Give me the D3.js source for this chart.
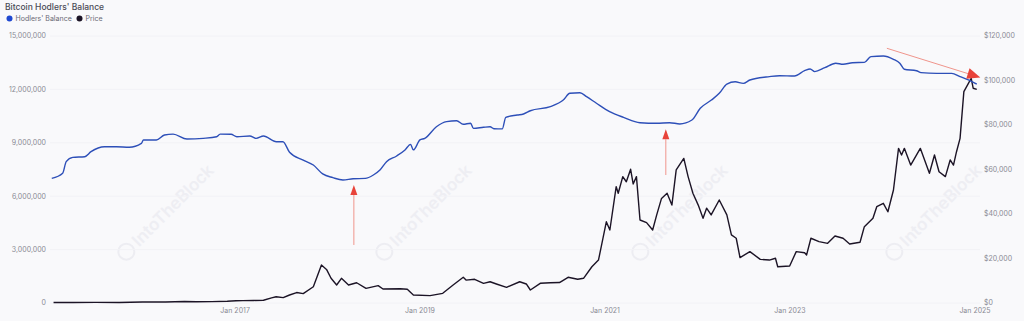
<!DOCTYPE html>
<html>
<head>
<meta charset="utf-8">
<script src="https://cdn.jsdelivr.net/npm/d3@7"></script>
<style>
  html, body { margin: 0; padding: 0; background: #f9f9fb; }
  svg { display: block; font-family: Inter, "Noto Sans", sans-serif; }
</style>
</head>
<body>
<div id="chart"></div>
<script>
// ---- data ----
const balanceDates = ["2015-01-08","2015-02-20","2015-03-06","2015-04-01","2015-05-18","2015-06-12","2015-08-04","2015-09-20","2015-11-10","2015-12-28",
  "2016-01-05","2016-02-25","2016-03-28","2016-05-01","2016-06-25","2016-08-28","2016-10-20","2016-11-03","2016-12-16",
  "2017-01-08","2017-02-28","2017-03-25","2017-04-23","2017-06-13","2017-07-09","2017-08-04","2017-09-27","2017-11-06","2017-12-13",
  "2018-01-22","2018-03-03","2018-04-12","2018-05-30","2018-07-01","2018-07-27","2018-08-22","2018-10-01","2018-11-03","2018-11-25","2018-12-06",
  "2019-01-01","2019-01-20","2019-03-07","2019-04-16","2019-05-26","2019-06-21","2019-07-20","2019-07-31","2019-09-09","2019-10-05","2019-10-20","2019-11-22","2019-12-06",
  "2020-01-20","2020-02-14","2020-03-12","2020-05-30","2020-07-20","2020-08-15","2020-09-24","2020-10-20","2020-11-28",
  "2021-01-19","2021-03-15","2021-05-19","2021-07-24","2021-09-13","2021-10-23","2021-12-10",
  "2022-01-12","2022-02-25","2022-03-28","2022-04-27","2022-05-30","2022-07-01","2022-07-27","2022-10-12","2022-11-21",
  "2023-01-19","2023-02-28","2023-03-22","2023-04-09","2023-05-19","2023-07-01","2023-07-30","2023-09-05","2023-10-22","2023-11-17",
  "2024-01-05","2024-02-14","2024-03-10","2024-03-28","2024-05-15","2024-06-02","2024-08-03","2024-10-01","2024-11-03","2024-12-06","2025-01-08"];
const balanceValues = [7.0,7.29,7.94,8.18,8.22,8.5,8.78,8.78,8.75,8.97,
  9.16,9.16,9.44,9.49,9.21,9.25,9.34,9.49,9.48,
  9.34,9.38,9.25,9.38,9.06,9.06,8.47,8.03,7.75,7.25,
  7.04,6.91,6.98,7.0,7.19,7.47,7.94,8.26,8.6,8.91,8.6,
  9.16,9.25,9.9,10.19,10.24,10.04,10.1,9.81,9.87,9.9,9.79,9.78,10.43,
  10.56,10.62,10.8,11.03,11.4,11.78,11.81,11.59,11.22,
  10.75,10.43,10.13,10.1,10.13,10.06,10.28,
  10.94,11.4,11.78,12.3,12.43,12.34,12.53,12.72,12.77,
  12.75,13.05,13.15,13.0,13.22,13.47,13.41,13.5,13.52,13.84,
  13.88,13.69,13.47,13.13,13.05,12.94,12.9,12.9,12.72,12.53,12.29].map(v => v * 1e6);

const priceDates = ["2015-01-15","2015-04-01","2015-07-01","2015-10-01","2015-11-15","2016-01-01","2016-04-01","2016-06-15","2016-08-01","2016-10-01","2016-12-01",
  "2017-01-05","2017-02-01","2017-03-15","2017-04-23","2017-05-25","2017-06-12","2017-07-10","2017-08-04","2017-09-01","2017-09-27","2017-11-06","2017-12-08","2017-12-28",
  "2018-01-15","2018-02-06","2018-02-25","2018-03-25","2018-04-26","2018-06-02","2018-07-20","2018-08-08","2018-10-15","2018-11-12","2018-12-06",
  "2019-02-10","2019-04-01","2019-05-12","2019-06-21","2019-07-02","2019-08-05","2019-09-09","2019-10-05","2019-10-30","2019-12-09",
  "2020-01-30","2020-02-25","2020-03-12","2020-04-20","2020-05-30","2020-07-05","2020-08-08","2020-09-15","2020-10-08","2020-11-10","2020-12-06","2020-12-17",
  "2021-01-06","2021-01-20","2021-02-14","2021-02-22","2021-03-12","2021-03-26","2021-04-12","2021-04-22","2021-05-05","2021-05-19","2021-06-14","2021-07-08","2021-07-24","2021-08-12","2021-09-03","2021-09-22","2021-10-09","2021-11-08","2021-11-25","2021-12-14",
  "2022-01-04","2022-01-23","2022-02-06","2022-02-24","2022-03-28","2022-04-27","2022-05-15","2022-06-03","2022-06-18","2022-07-27","2022-09-06","2022-10-12","2022-11-05","2022-11-14","2022-12-31",
  "2023-01-26","2023-02-28","2023-03-08","2023-03-25","2023-04-26","2023-05-30","2023-06-28","2023-07-30","2023-08-25","2023-10-05","2023-10-22","2023-11-25","2023-12-10",
  "2024-01-05","2024-01-23","2024-02-14","2024-03-05","2024-03-17","2024-03-28","2024-04-22","2024-05-30","2024-07-05","2024-07-25","2024-08-12","2024-09-06","2024-09-25","2024-10-08","2024-10-20","2024-11-03","2024-11-18","2024-12-06","2024-12-17","2024-12-25","2025-01-08"];
const priceValues = [210,240,280,250,330,430,420,680,580,620,780,
  1000,1050,1150,1250,2300,2800,2400,3600,4700,4200,7300,17100,15100,
  11100,8100,11100,8100,9100,6600,7800,6300,6400,6150,3600,
  3300,4350,8100,11550,10300,10650,8850,9550,8550,7050,
  9550,8550,5850,8850,9100,9200,11550,10650,11100,16300,19300,25300,
  36500,32800,52300,49300,56800,54500,60100,53500,56800,37300,36100,32800,39600,47000,49300,44000,59800,65000,56800,49300,
  44000,38100,42600,39600,46300,39600,30600,29100,20400,23100,19600,19300,20100,16300,16600,
  23100,22600,21600,29100,27600,26800,30100,29100,26500,27300,34300,38100,43300,
  44800,41000,50800,69500,66500,69500,62000,69500,58300,66500,59000,56800,64300,62000,68000,74000,95000,98700,101000,96500,96000];

const leftTicks = [0, 3000000, 6000000, 9000000, 12000000, 15000000];
const rightTicks = [0, 20000, 40000, 60000, 80000, 100000, 120000];
const xTickDates = ["2017-01-01","2019-01-01","2021-01-01","2023-01-01","2025-01-01"];

// annotation arrows, given as [date, balance]
const arrowFrom = [["2018-04-15", 3.26e6], ["2021-08-29", 7.19e6], ["2024-01-19", 14.31e6]];
const arrowTo   = [["2018-04-15", 6.63e6], ["2021-08-29", 9.76e6], ["2025-01-22", 12.67e6]];

// ---- chart ----
const width = 1024, height = 321;
const parse = d3.timeParse("%Y-%m-%d");
const BLUE = "#2d4fb8", DARK = "#1c1426";

const x = d3.scaleTime()
  .domain([parse("2015-01-01"), parse("2025-01-01")])
  .range([50, 975]);
const yLeft = d3.scaleLinear().domain([0, 15000000]).range([303, 36]);
const yRight = d3.scaleLinear().domain([0, 120000]).range([303, 36]);

const svg = d3.select("#chart").append("svg")
  .attr("width", width)
  .attr("height", height);

svg.append("rect").attr("width", width).attr("height", height).attr("fill", "#f9f9fb");

// watermark
const marks = svg.append("g").attr("class", "watermark");
[173, 431, 687, 941].forEach(cx => {
  const g = marks.append("g").attr("transform", `translate(${cx},205) rotate(-45)`);
  g.append("circle").attr("cx", -66).attr("cy", 0).attr("r", 8)
    .attr("fill", "none").attr("stroke", "#ededf2").attr("stroke-width", 2);
  g.append("text").attr("x", -54).attr("y", 6)
    .attr("font-size", 17).attr("font-weight", 600)
    .attr("fill", "#eeeef3").text("IntoTheBlock");
});

// grid
svg.append("g").selectAll("line")
  .data(leftTicks)
  .enter().append("line")
  .attr("x1", 50).attr("x2", 980)
  .attr("y1", d => yLeft(d)).attr("y2", d => yLeft(d))
  .attr("stroke", "#f2f2f6").attr("stroke-width", 1);

// left axis labels
svg.append("g").selectAll("text")
  .data(leftTicks)
  .enter().append("text")
  .attr("x", 46)
  .attr("y", d => yLeft(d))
  .attr("dy", "0.35em")
  .attr("text-anchor", "end")
  .attr("font-size", 7)
  .attr("fill", "#8a8a94")
  .text(d => d3.format(",")(d));

// right axis labels
svg.append("g").selectAll("text")
  .data(rightTicks)
  .enter().append("text")
  .attr("x", 984)
  .attr("y", d => yRight(d))
  .attr("dy", "0.35em")
  .attr("font-size", 7)
  .attr("fill", "#8a8a94")
  .text(d => "$" + d3.format(",")(d));

// x axis labels
svg.append("g").selectAll("text")
  .data(xTickDates.map(parse))
  .enter().append("text")
  .attr("x", d => x(d))
  .attr("y", 313)
  .attr("text-anchor", "middle")
  .attr("font-size", 7)
  .attr("fill", "#8a8a94")
  .text(d3.timeFormat("Jan %Y"));

// lines
const balanceData = balanceDates.map((d, i) => ({ date: parse(d), value: balanceValues[i] }));
const priceData = priceDates.map((d, i) => ({ date: parse(d), value: priceValues[i] }));

const balanceLine = d3.line()
  .x(d => x(d.date))
  .y(d => yLeft(d.value))
  .curve(d3.curveMonotoneX);
const priceLine = d3.line()
  .x(d => x(d.date))
  .y(d => yRight(d.value));

svg.append("path").datum(priceData)
  .attr("d", priceLine)
  .attr("fill", "none").attr("stroke", DARK).attr("stroke-width", 1.4)
  .attr("stroke-linejoin", "round");

svg.append("path").datum(balanceData)
  .attr("d", balanceLine)
  .attr("fill", "none").attr("stroke", BLUE).attr("stroke-width", 1.4)
  .attr("stroke-linejoin", "round");

// red arrows
const arrows = svg.append("g").attr("class", "arrows");
arrowFrom.forEach((f, i) => {
  const x1 = x(parse(f[0])), y1 = yLeft(f[1]);
  const x2 = x(parse(arrowTo[i][0])), y2 = yLeft(arrowTo[i][1]);
  const ang = Math.atan2(y2 - y1, x2 - x1);
  const len = i === 2 ? 13 : 10, half = i === 2 ? 5.5 : 3.5;
  const bx = x2 - len * Math.cos(ang), by = y2 - len * Math.sin(ang);
  arrows.append("line")
    .attr("x1", x1).attr("y1", y1).attr("x2", bx).attr("y2", by)
    .attr("stroke", "#f0958c").attr("stroke-width", 1);
  const px = -Math.sin(ang) * half, py = Math.cos(ang) * half;
  arrows.append("path")
    .attr("d", `M${x2},${y2}L${bx + px},${by + py}L${bx - px},${by - py}Z`)
    .attr("fill", "#e8433a");
});

// title + legend
svg.append("text").attr("x", 5).attr("y", 9.5)
  .attr("font-size", 8.5).attr("font-weight", 500).attr("fill", "#4b4b57")
  .text("Bitcoin Hodlers' Balance");

const legend = [["Hodlers' Balance", "#1f48d0"], ["Price", DARK]];
const lx = [9.5, 79.5];
legend.forEach((d, i) => {
  svg.append("circle").attr("cx", lx[i]).attr("cy", 18.5).attr("r", 3).attr("fill", d[1]);
  svg.append("text").attr("x", lx[i] + 6).attr("y", 21)
    .attr("font-size", 7).attr("fill", "#6a6a75").text(d[0]);
});
</script>
</body>
</html>
